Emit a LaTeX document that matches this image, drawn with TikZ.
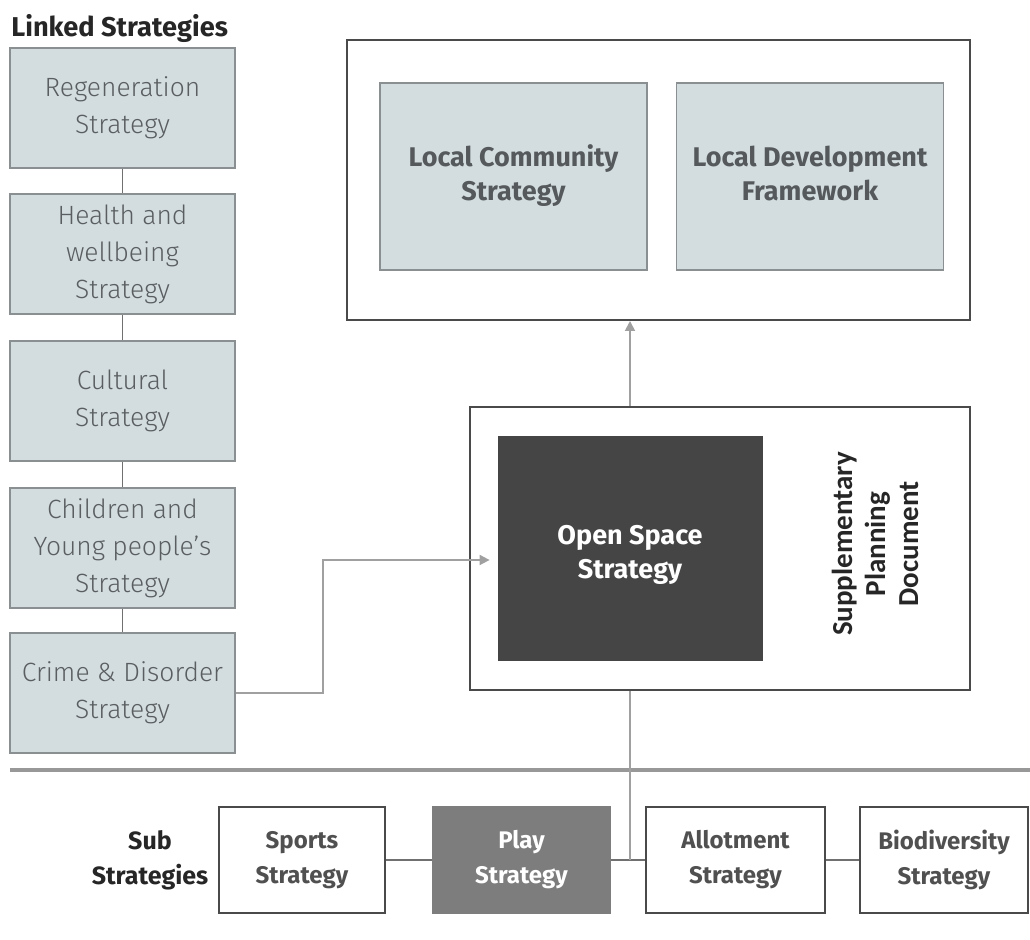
\documentclass[tikz,border=0pt]{standalone}
\usepackage{fontspec}
\setmainfont{Fira Sans}
\newfontfamily\lightfont{Fira Sans Light}
\newfontfamily\spdfont{Carlito}
\usetikzlibrary{arrows.meta,calc}
\definecolor{lfill}{HTML}{D3DDE0}
\definecolor{lborder}{HTML}{8A9092}
\definecolor{dborder}{HTML}{4A4A4A}
\definecolor{ossfill}{HTML}{454545}
\definecolor{playfill}{HTML}{7D7D7D}
\definecolor{conn}{HTML}{A0A0A0}
\definecolor{lconn}{HTML}{707070}
\definecolor{ltext}{HTML}{5A5E60}
\definecolor{btext}{HTML}{55595B}
\definecolor{stext}{HTML}{505050}
\tikzset{
  linked/.style={draw=lborder, line width=0.8pt, fill=lfill, text=ltext, align=center,
    minimum width=112.5pt, minimum height=60pt, inner sep=0pt,
    font=\lightfont\fontsize{13.2}{18.5}\selectfont},
  bigbox/.style={draw=dborder, line width=1pt, fill=white, inner sep=0pt},
  topin/.style={draw=lborder, line width=0.8pt, fill=lfill, text=btext, align=center,
    minimum width=133.5pt, minimum height=93.5pt, inner sep=0pt, text depth=3.5pt,
    font=\fontsize{13.5}{17}\selectfont\bfseries},
  sub/.style={draw=dborder, line width=1pt, fill=white, text=stext, align=center,
    minimum height=53pt, inner sep=0pt, font=\fontsize{12}{17.5}\selectfont\bfseries},
  arr/.style={draw=conn, line width=0.9pt, -{Triangle[width=5pt,length=5pt]}},
  gline/.style={draw=conn, line width=0.9pt},
  lline/.style={draw=lconn, line width=0.6pt}
}
\begin{document}
\begin{tikzpicture}[x=0.5pt,y=-0.5pt]
\useasboundingbox (0,0) rectangle (1030,940);
\fill[white] (0,0) rectangle (1030,940);
% title
\node[anchor=west, inner sep=0pt, font=\fontsize{13.6}{17}\selectfont\bfseries, text=black!85] (ttl) at (11,28) {Linked Strategies};
% linked strategies
\node[linked] (regen) at (122.5,108) {Regeneration\\Strategy};
\node[linked] (health) at (122.5,254) {Health and\\wellbeing\\Strategy};
\node[linked] (cult) at (122.5,401) {Cultural\\Strategy};
\node[linked] (child) at (122.5,548) {Children and\\Young people’s\\Strategy};
\node[linked] (crime) at (122.5,693) {Crime \& Disorder\\Strategy};
\draw[lline] (regen) -- (health);
\draw[lline] (health) -- (cult);
\draw[lline] (cult) -- (child);
\draw[lline] (child) -- (crime);
% top box
\node[bigbox, minimum width=311.5pt, minimum height=140pt] (top) at (658.5,180) {};
\node[topin] (lcs) at (513.5,176.5) {Local Community\\Strategy};
\node[topin] (ldf) at (810,176.5) {Local Development\\Framework};
% SPD box
\node[bigbox, minimum width=250pt, minimum height=141.5pt] (spd) at (720,548.5) {};
\node[fill=ossfill, draw=ossfill, minimum width=132pt, minimum height=112pt, inner sep=0pt] (oss) at (630,548) {};
\node[text=white, align=center, inner sep=0pt, font=\fontsize{13.5}{17}\selectfont\bfseries] (ossl) at ([yshift=-3.5pt]oss.center) {Open Space\\Strategy};
\node[rotate=90, align=center, text=black!85, inner sep=0pt,
  font=\spdfont\fontsize{14.5}{16.5}\selectfont\bfseries] (spdl) at (875,544) {Supplementary\\Planning\\Document};
% arrows
\draw[arr] (oss |- spd.north) -- (oss |- top.south);
\coordinate (bend) at (323,560);
\draw[arr, shorten >=4pt] (crime.east) -| (bend) -- (bend -| oss.west);
% divider
\coordinate (dl) at (10,770);
\coordinate (dr) at (1030,770);
\draw[draw=conn!95!black, line width=2.2pt] (dl) -- (dr);
% sub strategies
\node[inner sep=0pt, align=center, text=black!85, font=\fontsize{12.5}{17.5}\selectfont\bfseries] (subl) at (150,860) {Sub\\Strategies};
\node[sub, minimum width=83pt] (sports) at (302,860) {Sports\\Strategy};
\node[sub, minimum width=88.5pt, fill=playfill, draw=playfill, text=white] (play) at (521.5,860) {Play\\Strategy};
\node[sub, minimum width=89.5pt] (allot) at (735.5,860) {Allotment\\Strategy};
\node[sub, minimum width=84pt] (bio) at (944,860) {Biodiversity\\Strategy};
\draw[lline] (sports) -- (play);
\draw[lline] (play) -- (allot);
\draw[lline] (allot) -- (bio);
\draw[gline] (oss |- spd.south) -- (oss |- play.east);
\end{tikzpicture}
\end{document}
